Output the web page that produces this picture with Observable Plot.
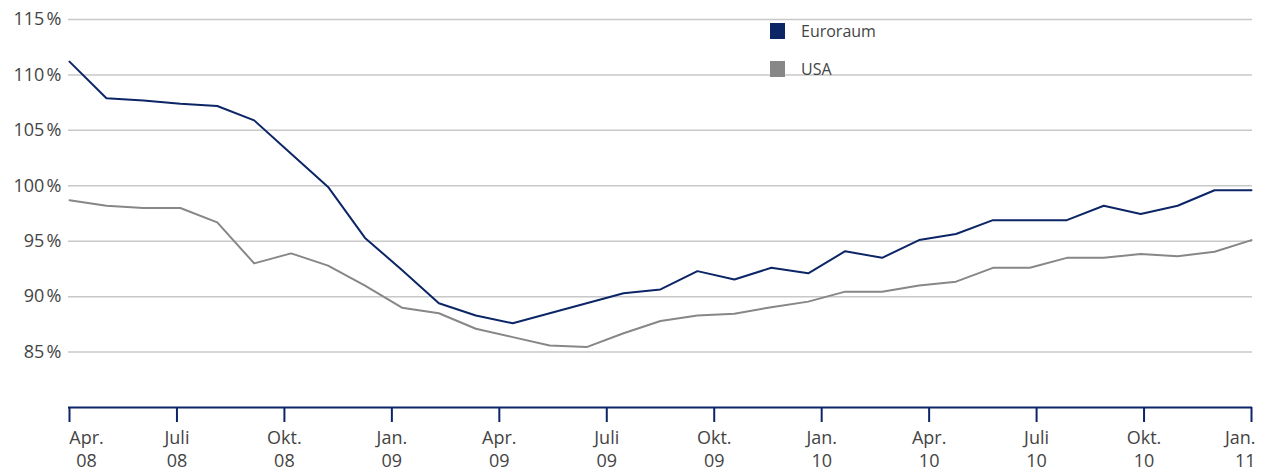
<!DOCTYPE html>
<html>
<head>
<meta charset="utf-8">
<script src="https://cdn.jsdelivr.net/npm/d3@7"></script>
<script src="https://cdn.jsdelivr.net/npm/@observablehq/plot@0.6"></script>
<style>
  html, body { margin: 0; padding: 0; background: #fff; }
  #wrap { position: relative; width: 1266px; height: 472px; font-family: "Open Sans", sans-serif; }
  .leg { position: absolute; left: 770px; display: flex; align-items: center; font-size: 16px; color: #444; }
  .sw { width: 15px; height: 16px; margin-right: 16px; }
</style>
</head>
<body>
<div id="wrap"></div>
<script>
// Values in % (33 observations, evenly spaced from Apr. 08 to Jan. 11)
const euroraum = [111.2, 107.9, 107.7, 107.4, 107.2, 105.9, 102.9, 99.9, 95.3, 92.4, 89.4,
  88.3, 87.6, 88.5, 89.4, 90.3, 90.65, 92.3, 91.55, 92.6, 92.1, 94.1, 93.5, 95.1, 95.65,
  96.9, 96.9, 96.9, 98.2, 97.45, 98.2, 99.6, 99.6];
const usa = [98.7, 98.2, 98.0, 98.0, 96.7, 93.0, 93.9, 92.8, 91.0, 89.0, 88.5,
  87.1, 86.35, 85.6, 85.45, 86.7, 87.8, 88.3, 88.45, 89.05, 89.55, 90.45, 90.45, 91.0, 91.35,
  92.6, 92.6, 93.5, 93.5, 93.85, 93.65, 94.05, 95.1];
const tickLabels = ["Apr.\n08", "Juli\n08", "Okt.\n08", "Jan.\n09", "Apr.\n09", "Juli\n09",
  "Okt.\n09", "Jan.\n10", "Apr.\n10", "Juli\n10", "Okt.\n10", "Jan.\n11"];
const yTicks = [85, 90, 95, 100, 105, 110, 115];
const seriesNames = ["Euroraum", "USA"];
const seriesColors = ["#0b2566", "#878787"];

const n = euroraum.length;
const rows = [];
euroraum.forEach((v, i) => rows.push({i, value: v, series: seriesNames[0]}));
usa.forEach((v, i) => rows.push({i, value: v, series: seriesNames[1]}));
const xTicks = tickLabels.map((_, k) => Math.min(n - 1, k * (n - 1) / (tickLabels.length - 1)));
const last = xTicks.length - 1;

const labelOpts = {lineHeight: 1.24, fill: "#444", fontSize: 18, label: null};

const chart = Plot.plot({
  width: 1266,
  height: 472,
  marginLeft: 68,
  marginRight: 14,
  marginTop: 19,
  marginBottom: 65,
  style: {fontFamily: "Open Sans, sans-serif", fontSize: "18px", color: "#444", background: "#fff"},
  x: {type: "linear", domain: [0, n - 1], inset: 1, label: null},
  y: {domain: [80, 115], label: null},
  color: {domain: seriesNames, range: seriesColors},
  marks: [
    Plot.gridY(yTicks, {stroke: "#c8c8c8", strokeOpacity: 1, strokeWidth: 1.5}),
    Plot.axisY(yTicks, {tickSize: 0, tickPadding: 7, tickFormat: d => d + "\u202F%", fill: "#444", fontSize: 18, label: null}),
    Plot.ruleY([80], {stroke: "#0b2566", strokeWidth: 2}),
    Plot.axisX(xTicks, {tickSize: 15, tickPadding: 6, stroke: "#0b2566", strokeWidth: 2,
      tickFormat: (d, k) => (k === 0 || k === last) ? "" : tickLabels[k], ...labelOpts}),
    Plot.axisX([xTicks[0]], {tickSize: 0, tickPadding: 21, dx: 17,
      tickFormat: () => tickLabels[0], ...labelOpts}),
    Plot.axisX([xTicks[last]], {tickSize: 0, tickPadding: 21, textAnchor: "end", dx: 4,
      tickFormat: () => tickLabels[last], ...labelOpts}),
    Plot.line(rows, {x: "i", y: "value", z: "series", stroke: "series", strokeWidth: 2})
  ]
});

const wrap = document.getElementById("wrap");
wrap.appendChild(chart);
const legTops = [20, 58];
seriesNames.forEach((name, k) => {
  const d = document.createElement("div");
  d.className = "leg";
  d.style.top = legTops[k] + "px";
  d.innerHTML = `<span class="sw" style="background:${seriesColors[k]}"></span><span>${name}</span>`;
  wrap.appendChild(d);
});
</script>
</body>
</html>
